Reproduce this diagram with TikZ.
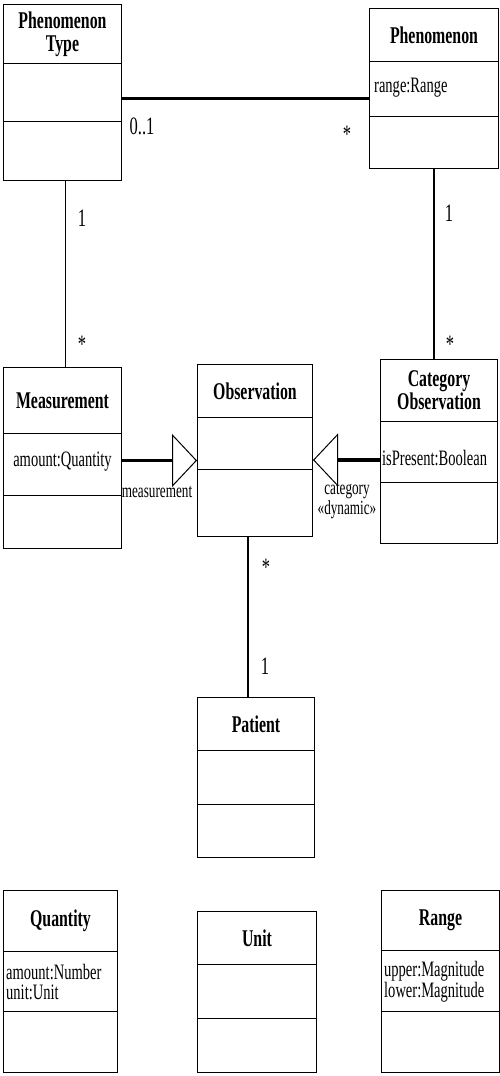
\documentclass[tikz,border=0pt]{standalone}
\usepackage{fontspec}
\setmainfont[FakeStretch=0.66]{Liberation Serif}
\usetikzlibrary{arrows.meta, calc}

% class box: name, left, right, top, first rule, second rule, bottom, title
\newcommand{\umlclass}[8]{%
  \node[compart, classtitle, minimum width=#3-#2, minimum height=#5-#4] (#1) at (#2,#4) {#8};
  \node[compart, minimum width=#3-#2, minimum height=#6-#5] (#1A) at (#2,#5) {};
  \node[compart, minimum width=#3-#2, minimum height=#7-#6] (#1O) at (#2,#6) {};
}

\begin{document}
\begin{tikzpicture}[x=1pt, y=-1pt,
  compart/.style={draw, line width=1pt, inner sep=0pt, anchor=north west},
  classtitle/.style={font=\fontsize{24}{23}\selectfont\bfseries, align=center},
  attr/.style={font=\fontsize{22}{20}\selectfont, align=left, inner sep=0pt},
  mult/.style={font=\fontsize{25}{25}\selectfont, inner sep=0pt},
  rolelabel/.style={font=\fontsize{20}{17}\selectfont, align=center, inner sep=0pt},
  assoc/.style={line width=1.2pt},
  strongassoc/.style={line width=3.5pt},
  genline/.style={line width=3.5pt, -{Triangle[open, length=25pt, width=53pt, line width=1pt]}}]
  \useasboundingbox (0,0) rectangle (500,1076);
  % Classes
  \umlclass{ptype}{3}{121}{4}{63}{121}{180}{Phenomenon\\Type}
  \umlclass{phen}{369}{498}{8}{61}{116}{168}{Phenomenon}
  \umlclass{meas}{3}{121}{367}{433}{495}{548}{Measurement}
  \umlclass{obs}{197}{312}{364}{417}{469}{536}{Observation}
  \umlclass{catobs}{380}{497}{359}{421}{482}{543}{Category\\Observation}
  \umlclass{patient}{197}{314}{697}{750}{804}{857}{Patient}
  \umlclass{quantity}{3}{117}{890}{951}{1011}{1072}{Quantity}
  \umlclass{unit}{197}{316}{911}{964}{1018}{1072}{Unit}
  \umlclass{range}{381}{499}{890}{950}{1011}{1072}{Range}
  % Attributes
  \node[attr, anchor=west] (phenattr) at (374,88) {range:Range};
  \node[attr] (measattr) at ([yshift=3pt]measA.center) {amount:Quantity};
  \node[attr, anchor=west] (catobsattr) at (382,458) {isPresent:Boolean};
  \node[attr, anchor=west] (quantityattr) at (6,982) {amount:Number\\unit:Unit};
  \node[attr, anchor=west] (rangeattr) at (384,982) {upper:Magnitude\\lower:Magnitude};
  % Associations
  \draw[strongassoc] ([yshift=-6pt]ptypeA.east) -- ([yshift=-6pt]ptypeA.east -| phenA.west);
  \draw[assoc] ([xshift=3pt]ptypeO.south) -- ([xshift=3pt]meas.north);
  \draw[assoc] (phenO.south) -- (phenO.south |- catobs.north);
  \draw[assoc] ([xshift=-7pt]obsO.south) -- ([xshift=-7pt]obsO.south |- patient.north);
  % Subtypes of observation
  \draw[genline] ([yshift=4pt]measA.east) -- ([yshift=4pt]measA.east -| obsA.west);
  \draw[genline] ([yshift=-8pt]catobsA.west) -- ([yshift=-8pt]catobsA.west -| obsA.east);
  \node[rolelabel] (measrole) at (157,492) {measurement};
  \node[rolelabel] (catrole) at (347,501) {category\\«dynamic»};
  % Multiplicities
  \node[mult] (m1) at (142,126) {0..1};
  \node[mult] (m2) at (347,134) {*};
  \node[mult] (m3) at (82,218) {1};
  \node[mult] (m4) at (82,344) {*};
  \node[mult] (m5) at (449,213) {1};
  \node[mult] (m6) at (450,344) {*};
  \node[mult] (m7) at (266,567) {*};
  \node[mult] (m8) at (265,666) {1};
\end{tikzpicture}
\end{document}
